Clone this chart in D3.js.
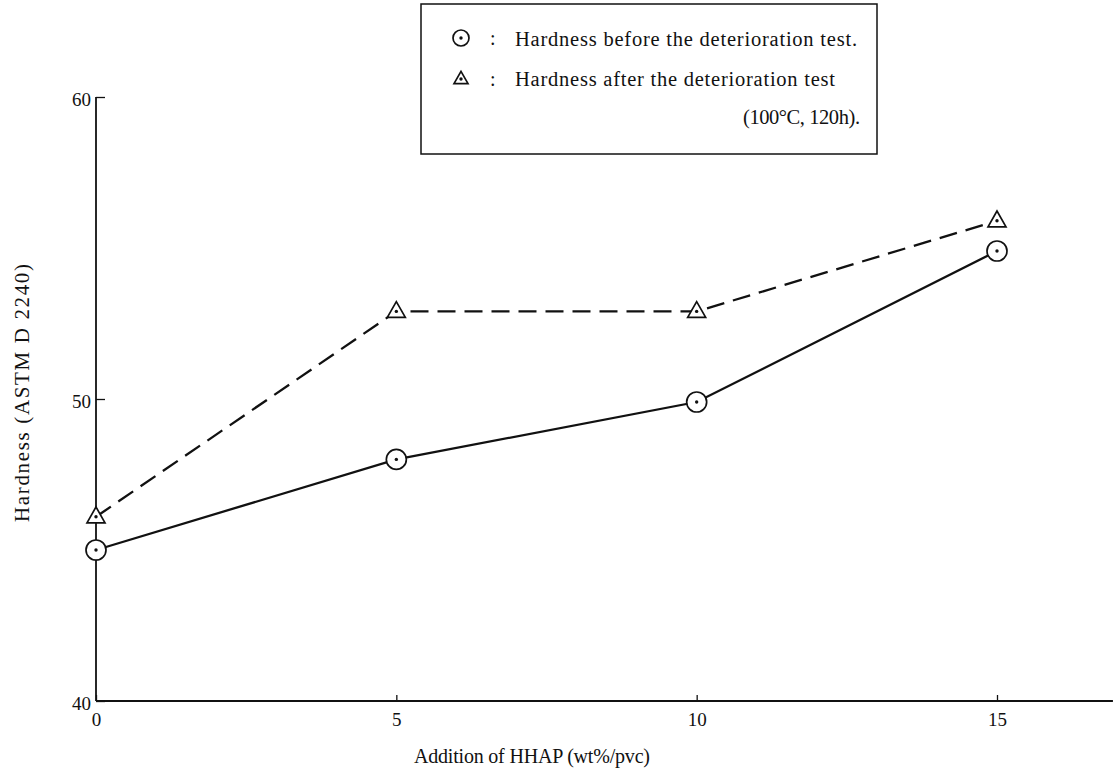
<!DOCTYPE html>
<html>
<head>
<meta charset="utf-8">
<script src="https://cdn.jsdelivr.net/npm/d3@7"></script>
<style>
  body { margin: 0; background: #fff; }
  svg text { font-family: "Liberation Serif", "Times New Roman", serif; fill: #111; }
</style>
</head>
<body>
<svg id="chart" width="1118" height="772"></svg>
<script>
var additions = [0, 5, 10, 15];
var hardnessBefore = [45, 48, 49.9, 54.9];
var hardnessAfter = [46.1, 52.9, 52.9, 55.9];
var xTicks = [0, 5, 10, 15];
var yTicks = [40, 50, 60];
var legendLabels = ["Hardness before the deterioration test.", "Hardness after the deterioration test", "(100\u00B0C, 120h)."];

var svg = d3.select("#chart");

var x = d3.scaleLinear().domain([0, 15]).range([96, 997]);
var y = d3.scaleLinear().domain([40, 60]).range([701, 97]);

var ink = "#111";

// axes
var xAxis = d3.axisBottom(x).tickValues(xTicks).tickSize(-6).tickPadding(12).tickFormat(d3.format("d"));
var yAxis = d3.axisLeft(y).tickValues(yTicks).tickSize(-9).tickPadding(5).tickFormat(d3.format("d"));

var gx = svg.append("g").attr("transform", "translate(0," + y(40) + ")").call(xAxis);
gx.select(".domain").remove();
gx.append("line").attr("x1", x(0)).attr("x2", x(16.93)).attr("y1", 0).attr("y2", 0)
  .attr("stroke", ink).attr("stroke-width", 1.8);
gx.selectAll(".tick line").attr("stroke", ink).attr("stroke-width", 1.3);
gx.selectAll(".tick text").attr("font-size", 19).attr("fill", ink).style("font-family", "Liberation Serif");

var gy = svg.append("g").attr("transform", "translate(" + x(0) + ",0)").call(yAxis);
gy.select(".domain").remove();
gy.append("line").attr("x1", 0).attr("x2", 0).attr("y1", y(60)).attr("y2", y(40))
  .attr("stroke", ink).attr("stroke-width", 1.8);
gy.selectAll(".tick line").attr("stroke", ink).attr("stroke-width", 1.3);
gy.selectAll(".tick text").attr("font-size", 19).attr("dy", "0.45em")
  .attr("fill", ink).style("font-family", "Liberation Serif");

// axis titles
svg.append("text")
  .attr("x", 532).attr("y", 763)
  .attr("text-anchor", "middle")
  .attr("font-size", 20)
  .attr("textLength", 236).attr("lengthAdjust", "spacing")
  .text("Addition of HHAP (wt%/pvc)");

svg.append("text")
  .attr("transform", "translate(22,393) rotate(-90)")
  .attr("text-anchor", "middle")
  .attr("dy", "0.35em")
  .attr("font-size", 21)
  .attr("textLength", 258).attr("lengthAdjust", "spacing")
  .text("Hardness (ASTM D 2240)");

// lines
var line = d3.line()
  .x(function(d, i){ return x(additions[i]); })
  .y(function(d){ return y(d); });

svg.append("path").datum(hardnessAfter)
  .attr("d", line).attr("fill", "none").attr("stroke", ink)
  .attr("stroke-width", 2.3).attr("stroke-dasharray", "18,9");

svg.append("path").datum(hardnessBefore)
  .attr("d", line).attr("fill", "none").attr("stroke", ink)
  .attr("stroke-width", 2.3);

// markers
function circleMark(g, cx, cy, r) {
  g.append("circle").attr("cx", cx).attr("cy", cy).attr("r", r)
    .attr("fill", "#fff").attr("stroke", ink).attr("stroke-width", 1.7);
  g.append("circle").attr("cx", cx).attr("cy", cy).attr("r", 1.7).attr("fill", ink);
}
function triMark(g, cx, cy, w) {
  var h = w * 0.88;
  var pts = [[cx, cy - h * 0.62], [cx - w / 2, cy + h * 0.38], [cx + w / 2, cy + h * 0.38]];
  g.append("path").attr("d", "M" + pts.join("L") + "Z")
    .attr("fill", "#fff").attr("stroke", ink).attr("stroke-width", 1.7);
  g.append("circle").attr("cx", cx).attr("cy", cy).attr("r", 1.7).attr("fill", ink);
}

var marks = svg.append("g");
hardnessAfter.forEach(function(v, i){ triMark(marks, x(additions[i]), y(v), 18); });
hardnessBefore.forEach(function(v, i){ circleMark(marks, x(additions[i]), y(v), 10); });

// legend
var lg = svg.append("g");
lg.append("rect").attr("x", 421).attr("y", 4).attr("width", 456).attr("height", 150)
  .attr("fill", "#fff").attr("stroke", ink).attr("stroke-width", 1.5);
circleMark(lg, 461, 38, 8);
triMark(lg, 461, 79, 14);
[38, 79].forEach(function(cy){
  lg.append("text").attr("x", 490).attr("y", cy + 7).attr("font-size", 20).text(":");
});
lg.append("text").attr("x", 515).attr("y", 46).attr("font-size", 20.5)
  .attr("textLength", 342).attr("lengthAdjust", "spacing").text(legendLabels[0]);
lg.append("text").attr("x", 515).attr("y", 86).attr("font-size", 20.5)
  .attr("textLength", 320).attr("lengthAdjust", "spacing").text(legendLabels[1]);
lg.append("text").attr("x", 743).attr("y", 124).attr("font-size", 20.5)
  .attr("textLength", 117).attr("lengthAdjust", "spacing").text(legendLabels[2]);
</script>
</body>
</html>
